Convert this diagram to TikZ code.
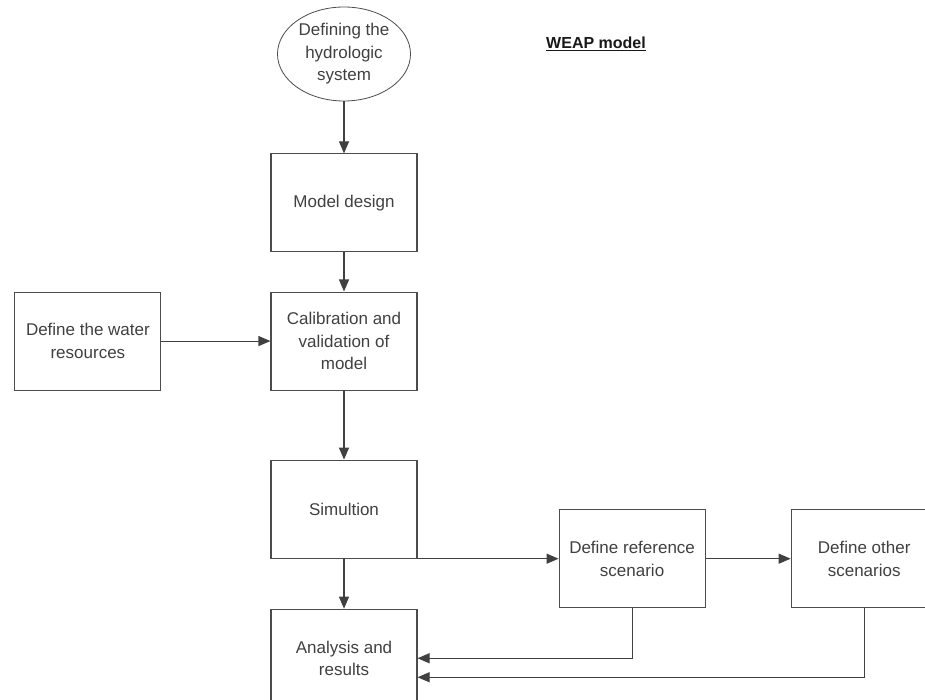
\documentclass[tikz,border=0pt]{standalone}
\usepackage{fontspec}
\setmainfont{Liberation Sans}
\usepackage{tikz}
\usetikzlibrary{shapes,shapes.geometric,arrows,positioning,calc,arrows.meta}
\usepackage{xcolor}

\begin{document}
\begin{tikzpicture}[
    x=1pt, y=-1pt,
    every node/.style={font=\fontsize{17}{22.5}\selectfont, text=black!75},
    box/.style={rectangle, draw=black!70, line width=1.1pt, minimum width=146pt, minimum height=98pt, align=center, inner sep=2pt},
    startnode/.style={ellipse, draw=black!70, line width=0.8pt, minimum width=133pt, minimum height=94pt, align=center, inner sep=0pt},
    arrow/.style={-{Triangle[length=12pt,width=10pt]}, black!75, line width=1.1pt},
    title/.style={font=\fontsize{16}{20}\selectfont\bfseries, text=black!90}
]
\useasboundingbox (0,0) rectangle (925,700);

% Main column
\node[startnode] (hydro) at (344,54) {Defining the\\hydrologic\\system};
\node[box, below=52pt of hydro] (design) {Model design};
\node[box, below=39pt of design] (calib) {Calibration and\\validation of\\model};
\node[box, left=109pt of calib] (water) {Define the water\\resources};
\node[box, below=69pt of calib] (sim) {Simultion};
\node[box, below=50pt of sim] (analysis) {Analysis and\\results};

% Scenarios
\node[box, right=141pt of sim.south east, anchor=west] (ref) {Define reference\\scenario};
\node[box, right=85pt of ref] (other) {Define other\\scenarios};

% Title
\node[title] (weap) at (596,44) {\underline{WEAP model}};

% Arrows
\draw[arrow] (hydro) -- (design);
\draw[arrow] (design) -- (calib);
\draw[arrow] (water) -- (calib);
\draw[arrow] (calib) -- (sim);
\draw[arrow] (sim) -- (analysis);
\draw[arrow] (sim.south east) -- (ref.west);
\draw[arrow] (ref) -- (other);
\draw[arrow] (ref.south) |- (analysis.east);
\draw[arrow] (other.south) |- ([yshift=-19pt]analysis.east);

\end{tikzpicture}
\end{document}
